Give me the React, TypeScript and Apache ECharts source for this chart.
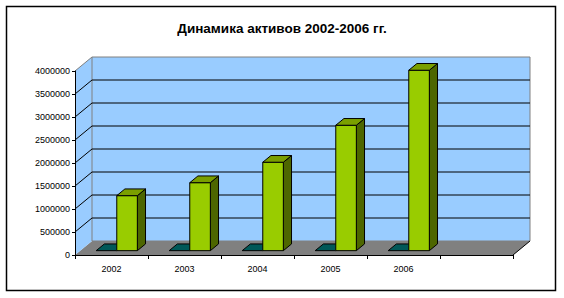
import React, { useEffect, useRef } from "react";
import * as echarts from "echarts";

// ---- data ----
const categories = ["2002", "2003", "2004", "2005", "2006", ""];
const assetValues = [1196000, 1478000, 1922000, 2726000, 3922000];
const secondValues = [0, 0, 0, 0, 0];
const yTickValues = [0, 500000, 1000000, 1500000, 2000000, 2500000, 3000000, 3500000, 4000000];
const yMax = 4000000;
const yInterval = 500000;
const titleText = "Динамика активов 2002-2006 гг.";

// ---- 3D look (styling) ----
const DEPTH_X = 17;
const DEPTH_Y = -14;
const BAR_FRONT = 0.31;
const BAR_DEPTH = 0.48;
const BAR_FRAC = 0.282;
const FONT = "Arial, 'Liberation Sans', sans-serif";

type Colors = { front: string; top: string; side: string };

function makeBarRenderer(side: number, colors: Colors) {
  return (params: any, api: any) => {
    const idx = api.value(0);
    const v = api.value(1);
    const base = api.coord([idx, 0]);
    const top = api.coord([idx, v]);
    const band = api.size([1, 0])[0];
    const w = band * BAR_FRAC;
    const fx = DEPTH_X * BAR_FRONT;
    const fy = DEPTH_Y * BAR_FRONT;
    const bx = DEPTH_X * BAR_DEPTH;
    const by = DEPTH_Y * BAR_DEPTH;
    const x0 = (side < 0 ? base[0] - w : base[0]) + fx;
    const x1 = x0 + w;
    const yb = base[1] + fy;
    const yt = top[1] + fy;
    const stroke = { stroke: "#000", lineWidth: 1, lineJoin: "round" };
    const children: any[] = [];
    if (yb - yt > 0.5) {
      children.push({
        type: "polygon",
        shape: { points: [[x1, yt], [x1 + bx, yt + by], [x1 + bx, yb + by], [x1, yb]] },
        style: { fill: colors.side, ...stroke },
      });
      children.push({
        type: "rect",
        shape: { x: x0, y: yt, width: w, height: yb - yt },
        style: { fill: colors.front, ...stroke },
      });
    }
    children.push({
      type: "polygon",
      shape: { points: [[x0, yt], [x1, yt], [x1 + bx, yt + by], [x0 + bx, yt + by]] },
      style: { fill: colors.top, ...stroke },
    });
    return { type: "group", children };
  };
}

function renderWalls(params: any, api: any) {
  const cs = params.coordSys;
  const left = cs.x;
  const right = cs.x + cs.width;
  const yTop = api.coord([0, yMax])[1];
  const yBot = api.coord([0, 0])[1];
  const dx = DEPTH_X;
  const dy = DEPTH_Y;
  const children: any[] = [];
  // floor
  children.push({
    type: "polygon",
    shape: { points: [[left, yBot], [left + dx, yBot + dy], [right + dx, yBot + dy], [right, yBot]] },
    style: { fill: "#808080", stroke: "none" },
  });
  // side wall
  children.push({
    type: "polygon",
    shape: { points: [[left, yBot], [left, yTop], [left + dx, yTop + dy], [left + dx, yBot + dy]] },
    style: { fill: "#99CCFF", stroke: "none" },
  });
  // back wall
  children.push({
    type: "rect",
    shape: { x: left + dx, y: yTop + dy, width: right - left, height: yBot - yTop },
    style: { fill: "#99CCFF", stroke: "#808080", lineWidth: 1 },
  });
  // side wall top edge
  children.push({
    type: "line",
    shape: { x1: left, y1: yTop, x2: left + dx, y2: yTop + dy },
    style: { stroke: "#808080", lineWidth: 1 },
  });
  // gridlines
  yTickValues.forEach((t) => {
    if (t === 0 || t === yMax) return;
    const y = api.coord([0, t])[1];
    children.push({
      type: "line",
      shape: { x1: left, y1: y, x2: left + dx, y2: y + dy },
      style: { stroke: "#000", lineWidth: 1 },
    });
    children.push({
      type: "line",
      shape: { x1: left + dx, y1: y + dy, x2: right + dx, y2: y + dy },
      style: { stroke: "#000", lineWidth: 1 },
    });
  });
  // floor right edge
  children.push({
    type: "line",
    shape: { x1: right, y1: yBot, x2: right + dx, y2: yBot + dy },
    style: { stroke: "#000", lineWidth: 1 },
  });
  return { type: "group", children };
}

export default function App() {
  const ref = useRef<HTMLDivElement>(null);
  useEffect(() => {
    if (!ref.current) return;
    const chart = echarts.init(ref.current, undefined, { renderer: "svg" });
    chart.setOption({
      animation: false,
      backgroundColor: "#ffffff",
      title: {
        text: titleText,
        left: "center",
        top: 16,
        textStyle: { fontFamily: FONT, fontSize: 13.5, fontWeight: "bold", color: "#000" },
      },
      graphic: [
        {
          type: "rect",
          shape: { x: 6.5, y: 6.5, width: 549, height: 284 },
          style: { fill: "none", stroke: "#000", lineWidth: 1.5 },
          z: 100,
        },
      ],
      grid: { left: 75, right: 51, top: 71, bottom: 43, containLabel: false },
      xAxis: {
        type: "category",
        data: categories,
        boundaryGap: true,
        z: 10,
        axisLine: { show: true, lineStyle: { color: "#000", width: 1 } },
        axisTick: { show: true, length: 4, lineStyle: { color: "#000" } },
        axisLabel: { fontFamily: FONT, fontSize: 9, color: "#000", margin: 9 },
        splitLine: { show: false },
      },
      yAxis: {
        type: "value",
        min: 0,
        max: yMax,
        interval: yInterval,
        z: 10,
        axisLine: { show: true, lineStyle: { color: "#000", width: 1 } },
        axisTick: { show: true, length: 3, lineStyle: { color: "#000" } },
        axisLabel: {
          fontFamily: FONT,
          fontSize: 9,
          color: "#000",
          margin: 5,
          formatter: (v: number) => String(v),
        },
        splitLine: { show: false },
      },
      series: [
        {
          type: "custom",
          name: "walls",
          renderItem: renderWalls,
          data: [[0, 0]],
          z: 1,
          silent: true,
        },
        {
          type: "custom",
          name: "Ряд1",
          renderItem: makeBarRenderer(-1, { front: "#006666", top: "#005858", side: "#003333" }),
          data: secondValues.map((v, i) => [i, v]),
          z: 3,
        },
        {
          type: "custom",
          name: "Активы",
          renderItem: makeBarRenderer(1, { front: "#99CC00", top: "#7A9F00", side: "#4D6600" }),
          data: assetValues.map((v, i) => [i, v]),
          z: 4,
        },
      ],
    });
    return () => chart.dispose();
  }, []);
  return (
    <div
      ref={ref}
      style={{ position: "fixed", left: 0, top: 0, width: 564, height: 298, background: "#fff" }}
    />
  );
}
